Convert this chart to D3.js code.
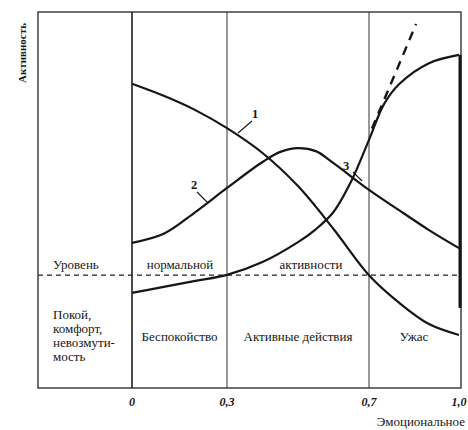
<!DOCTYPE html>
<html>
<head>
<meta charset="utf-8">
<script src="https://cdn.jsdelivr.net/npm/d3@7"></script>
<style>
  html, body { margin: 0; padding: 0; background: #fff; }
  svg { display: block; }
</style>
</head>
<body>
<svg id="chart" width="468" height="430" font-family="'Liberation Serif', 'Times New Roman', 'DejaVu Serif', serif"></svg>
<script>
// Emotional excitement (x) against activity (y)
const stageBounds = [0, 0.3, 0.7, 1.0];
const tickLabels = ["0", "0,3", "0,7", "1,0"];
const stageNames = ["Беспокойство", "Активные действия", "Ужас"];
const restLines = ["Покой,", "комфорт,", "невозмути-", "мость"];
const normalLevel = 0.30;

// Curve 1
const curve1X = [0, 0.1, 0.2, 0.3, 0.4, 0.5, 0.6, 0.7, 0.8, 0.9, 1.0];
const curve1Y = [0.809, 0.777, 0.739, 0.691, 0.625, 0.537, 0.423, 0.300, 0.227, 0.170, 0.141];
// Curve 2
const curve2X = [0, 0.1, 0.2, 0.3, 0.4, 0.45, 0.5, 0.55, 0.6, 0.7, 0.8, 0.9, 1.0];
const curve2Y = [0.386, 0.410, 0.468, 0.532, 0.601, 0.628, 0.638, 0.630, 0.598, 0.527, 0.473, 0.420, 0.372];
// Curve 3
const curve3X = [0, 0.1, 0.2, 0.3, 0.4, 0.5, 0.55, 0.6, 0.65, 0.7, 0.75, 0.8, 0.9, 1.0];
const curve3Y = [0.253, 0.269, 0.285, 0.301, 0.335, 0.388, 0.422, 0.468, 0.550, 0.660, 0.755, 0.808, 0.864, 0.886];
// Dashed continuation of curve 3
const extX = [0.71, 0.857];
const extY = [0.690, 0.968];
// Vertical bar at the right edge
const edgeBarY = [0.886, 0.213];

const svg = d3.select("#chart");
const frame = { left: 38, right: 461, top: 12, bottom: 388 };

const x = d3.scaleLinear().domain(stageBounds).range([132, 227, 369, 459]);
const y = d3.scaleLinear().domain([0, 1]).range([frame.bottom, frame.top]);

const ink = "#161616";

// Frame
svg.append("rect")
  .attr("x", frame.left).attr("y", frame.top)
  .attr("width", frame.right - frame.left).attr("height", frame.bottom - frame.top)
  .attr("fill", "none").attr("stroke", "#333").attr("stroke-width", 1.4);

// Stage boundaries
svg.selectAll("line.stage")
  .data(stageBounds.slice(0, 3))
  .join("line")
  .attr("class", "stage")
  .attr("x1", d => x(d)).attr("x2", d => x(d))
  .attr("y1", frame.top).attr("y2", frame.bottom)
  .attr("stroke", (d, i) => i === 0 ? "#222" : "#444")
  .attr("stroke-width", (d, i) => i === 0 ? 1.6 : 1.1);

// Right-edge bar
svg.append("line")
  .attr("x1", x(1.0) + 1).attr("x2", x(1.0) + 1)
  .attr("y1", y(edgeBarY[0])).attr("y2", y(edgeBarY[1]))
  .attr("stroke", ink).attr("stroke-width", 3);

// Normal activity level
svg.append("line")
  .attr("x1", frame.left).attr("x2", frame.right)
  .attr("y1", y(normalLevel)).attr("y2", y(normalLevel))
  .attr("stroke", "#222").attr("stroke-width", 1.2)
  .attr("stroke-dasharray", "5,4");

// Curves
const line = d3.line().x(d => x(d[0])).y(d => y(d[1])).curve(d3.curveCatmullRom.alpha(0.5));
const curves = [
  d3.zip(curve1X, curve1Y),
  d3.zip(curve2X, curve2Y),
  d3.zip(curve3X, curve3Y)
];
svg.selectAll("path.curve")
  .data(curves)
  .join("path")
  .attr("class", "curve")
  .attr("d", line)
  .attr("fill", "none").attr("stroke", ink).attr("stroke-width", 2.2);

svg.append("path")
  .attr("d", d3.line().x(d => x(d[0])).y(d => y(d[1]))(d3.zip(extX, extY)))
  .attr("fill", "none").attr("stroke", ink).attr("stroke-width", 2.4)
  .attr("stroke-dasharray", "9,7");

// Curve numbers with leader lines
const callouts = [
  { t: "1", tx: 255, ty: 118, x1: 252, y1: 121, x2: 238, y2: 133 },
  { t: "2", tx: 194, ty: 189, x1: 197, y1: 192, x2: 208, y2: 203 },
  { t: "3", tx: 346, ty: 170, x1: 353, y1: 172, x2: 362, y2: 181 }
];
callouts.forEach(c => {
  svg.append("line").attr("x1", c.x1).attr("y1", c.y1).attr("x2", c.x2).attr("y2", c.y2)
    .attr("stroke", ink).attr("stroke-width", 1.1);
  svg.append("text").attr("x", c.tx).attr("y", c.ty).attr("text-anchor", "middle")
    .attr("font-size", 12.5).attr("font-weight", "bold").attr("fill", ink).text(c.t);
});

// Axis tick labels
svg.selectAll("text.tick")
  .data(stageBounds)
  .join("text")
  .attr("class", "tick")
  .attr("x", d => x(d)).attr("y", 406)
  .attr("text-anchor", "middle")
  .attr("font-size", 12).attr("font-style", "italic").attr("font-weight", "bold")
  .attr("fill", ink)
  .text((d, i) => tickLabels[i]);

svg.append("text").attr("x", 465).attr("y", 426).attr("text-anchor", "end")
  .attr("font-size", 13).attr("fill", ink).text("Эмоциональное");

svg.append("text")
  .attr("transform", "translate(26,53) rotate(-90)")
  .attr("text-anchor", "middle").attr("font-size", 11).attr("font-weight", "bold")
  .attr("fill", ink)
  .text("Активность");

// Normal level caption
const cap = svg.append("g").attr("font-size", 13).attr("fill", ink);
cap.append("text").attr("x", 53).attr("y", 269).text("Уровень");
cap.append("text").attr("x", 180).attr("y", 269).attr("text-anchor", "middle").text("нормальной");
cap.append("text").attr("x", 311).attr("y", 269).attr("text-anchor", "middle").text("активности");

// Stage names
svg.selectAll("text.stage")
  .data(stageNames)
  .join("text")
  .attr("class", "stage")
  .attr("x", (d, i) => (x(stageBounds[i]) + x(stageBounds[i + 1])) / 2)
  .attr("y", 341)
  .attr("text-anchor", "middle").attr("font-size", 13).attr("fill", ink)
  .text(d => d);

svg.selectAll("text.rest")
  .data(restLines)
  .join("text")
  .attr("class", "rest")
  .attr("x", 53).attr("y", (d, i) => 319 + i * 14)
  .attr("font-size", 13).attr("fill", ink)
  .text(d => d);
</script>
</body>
</html>
